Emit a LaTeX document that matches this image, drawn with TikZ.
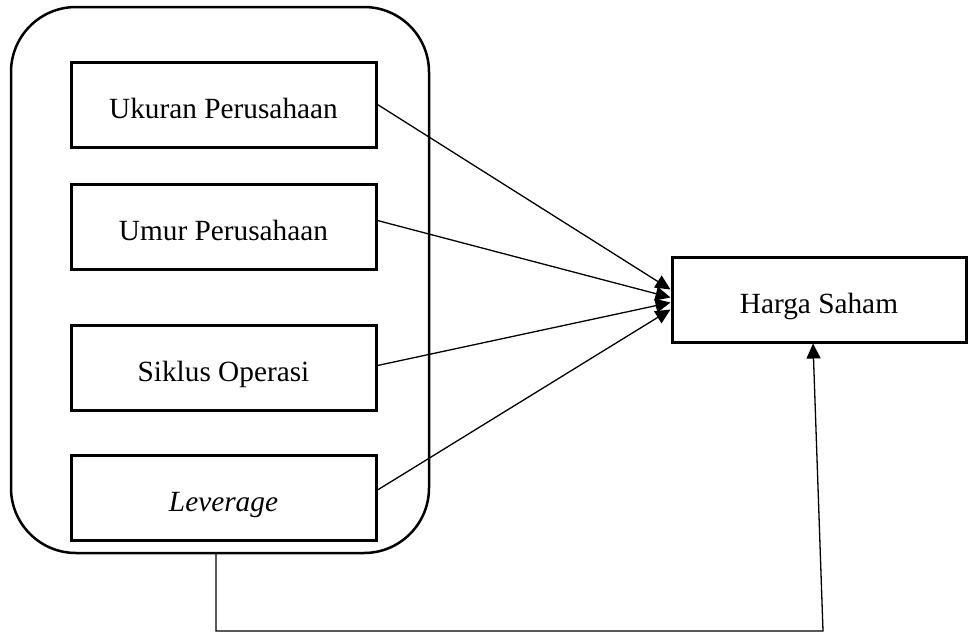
\documentclass[tikz,border=0pt]{standalone}
\usepackage{fontspec}
\setmainfont{Liberation Serif}
\usetikzlibrary{arrows.meta}
\newcommand{\boxtxt}[1]{#1\hspace{15pt}}
\begin{document}
\begin{tikzpicture}[x=1pt,y=-1pt,
  varbox/.style={draw,line width=3pt,minimum width=305pt,minimum height=85pt,inner sep=0pt,
    text height=27pt,text depth=0pt,
    font=\fontsize{29.3}{34}\selectfont},
  outerbox/.style={draw,line width=2.5pt,rounded corners=65pt,minimum width=418pt,minimum height=546pt,inner sep=0pt},
  conn/.style={line width=1.3pt,-{Triangle[length=15pt,width=14pt]}}
]
\useasboundingbox (0,0) rectangle (969,633);
\node[outerbox] (outer) at (220,280) {};
\node[varbox] (uk) at (223.5,104.5) {\boxtxt{Ukuran Perusahaan}};
\node[varbox] (um) at (223.5,226.5) {\boxtxt{Umur Perusahaan}};
\node[varbox] (si) at (223.5,367.5) {\boxtxt{Siklus Operasi}};
\node[varbox] (le) at (223.5,498) {\boxtxt{\itshape Leverage}};
\node[varbox,minimum width=294pt] (hs) at (819,299.5) {Harga Saham};
\draw[conn] (uk.east) -- ([yshift=10pt]hs.west);
\draw[conn] ([yshift=6pt]um.east) -- ([yshift=2pt]hs.west);
\draw[conn] ([yshift=2pt]si.east) -- ([yshift=-3pt]hs.west);
\draw[conn] ([yshift=8pt]le.east) -- ([yshift=-10pt]hs.west);
\coordinate (c1) at (216,553);
\coordinate (c2) at (216,631);
\coordinate (c3) at (823,631);
\coordinate (tip) at ([xshift=-6pt]hs.south);
\draw[conn] (c1) -- (c2) -- (c3) -- (tip);
\end{tikzpicture}
\end{document}
